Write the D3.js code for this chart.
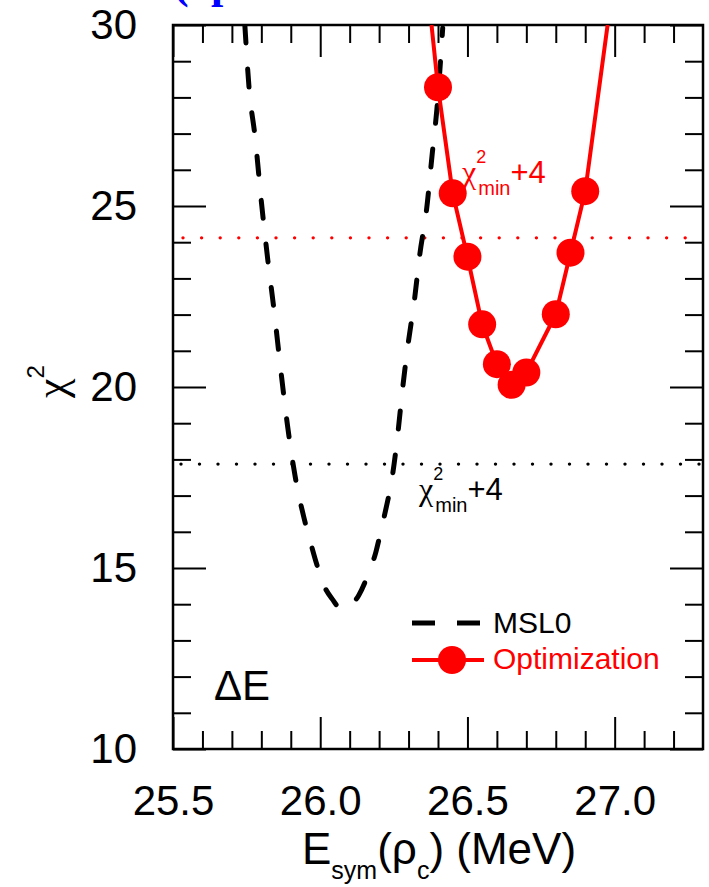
<!DOCTYPE html>
<html>
<head>
<meta charset="utf-8">
<script src="https://cdn.jsdelivr.net/npm/d3@7"></script>
<style>
  html, body { margin: 0; padding: 0; background: #ffffff; }
  svg { display: block; font-family: "Liberation Sans", Arial, Helvetica, sans-serif; }
</style>
</head>
<body>
<svg id="chart" width="709" height="887"></svg>
<script>
// ---------------- data ----------------
const xMajorTicks = [25.5, 26.0, 26.5, 27.0];
const xTickLabels = ["25.5", "26.0", "26.5", "27.0"];
const xMinorTicks = [25.6, 25.7, 25.8, 25.9, 26.1, 26.2, 26.3, 26.4, 26.6, 26.7, 26.8, 26.9, 27.1, 27.2];
const yMajorTicks = [10, 15, 20, 25, 30];
const yTickLabels = ["10", "15", "20", "25", "30"];
const yMinorTicks = [11, 12, 13, 14, 16, 17, 18, 19, 21, 22, 23, 24, 26, 27, 28, 29];

// MSL0 (dashed black curve)
const msl0X = [25.744, 25.759, 25.778, 25.802, 25.822, 25.843, 25.866, 25.890, 25.914, 25.945, 25.965, 25.989, 26.012, 26.043, 26.070, 26.101, 26.131, 26.162, 26.189, 26.209, 26.226, 26.243, 26.263, 26.280, 26.297, 26.320, 26.338, 26.361, 26.381, 26.396, 26.416];
const msl0Y = [30.0, 28.2, 26.96, 24.97, 23.51, 22.13, 20.47, 18.87, 17.57, 16.38, 15.77, 15.08, 14.53, 14.12, 13.87, 13.95, 14.25, 14.81, 15.44, 16.13, 16.74, 17.43, 18.67, 19.97, 21.10, 22.40, 23.65, 24.89, 26.49, 27.65, 29.92];

// Optimization (red points)
const optX = [26.40, 26.45, 26.50, 26.55, 26.60, 26.65, 26.70, 26.80, 26.85, 26.90];
const optY = [28.28, 25.35, 23.60, 21.73, 20.63, 20.06, 20.40, 22.01, 23.71, 25.41];
// red curve continues to the top of the frame
const optLineStartX = 26.378, optLineStartY = 30.0;
const optLineEndX = 26.976, optLineEndY = 30.0;

// chi2_min + 4 thresholds
const msl0Threshold = 17.87;
const optThreshold = 24.12;

// ---------------- layout ----------------
const svg = d3.select("#chart");
const L = 173, R = 703, T = 25, B = 749;
const x = d3.scaleLinear().domain([25.5, 27.3]).range([L, R]);
const y = d3.scaleLinear().domain([10, 30]).range([B, T]);
const tickFont = 42;
const greekFont = "'Liberation Serif', 'DejaVu Serif', serif";

svg.append("defs").append("clipPath").attr("id", "plotclip")
  .append("rect").attr("x", L).attr("y", T).attr("width", R - L).attr("height", B - T);

// partially visible blue title at the very top (cut off in the original figure too)
const title = svg.append("text")
  .attr("y", -2)
  .attr("font-family", "'Liberation Serif', 'Times New Roman', serif")
  .attr("font-weight", "bold")
  .attr("font-size", 44)
  .attr("fill", "#0000ff");
title.append("tspan").attr("x", 174).text("(");
title.append("tspan").attr("x", 211).text("p");

// ---------------- axes ----------------
function styleAxis(g) {
  g.select(".domain").remove();
  g.selectAll(".tick line").attr("stroke", "#000").attr("stroke-width", 2);
  g.selectAll(".tick text").attr("fill", "#000").attr("font-size", tickFont)
    .attr("font-family", "'Liberation Sans', Arial, Helvetica, sans-serif");
}

// bottom
svg.append("g").attr("transform", `translate(0,${B})`)
  .call(d3.axisBottom(x).tickValues(xMajorTicks).tickSize(-32).tickPadding(36)
    .tickFormat((d, i) => xTickLabels[i]))
  .call(styleAxis);
svg.append("g").attr("transform", `translate(0,${B})`)
  .call(d3.axisBottom(x).tickValues(xMinorTicks).tickSize(-18).tickFormat(""))
  .call(styleAxis);
// top
svg.append("g").attr("transform", `translate(0,${T})`)
  .call(d3.axisTop(x).tickValues(xMajorTicks).tickSize(-32).tickFormat(""))
  .call(styleAxis);
svg.append("g").attr("transform", `translate(0,${T})`)
  .call(d3.axisTop(x).tickValues(xMinorTicks).tickSize(-18).tickFormat(""))
  .call(styleAxis);
// left
svg.append("g").attr("transform", `translate(${L},0)`)
  .call(d3.axisLeft(y).tickValues(yMajorTicks).tickSize(-33).tickPadding(36)
    .tickFormat((d, i) => yTickLabels[i]))
  .call(styleAxis);
svg.append("g").attr("transform", `translate(${L},0)`)
  .call(d3.axisLeft(y).tickValues(yMinorTicks).tickSize(-18).tickFormat(""))
  .call(styleAxis);
// right
svg.append("g").attr("transform", `translate(${R},0)`)
  .call(d3.axisRight(y).tickValues(yMajorTicks).tickSize(-33).tickFormat(""))
  .call(styleAxis);
svg.append("g").attr("transform", `translate(${R},0)`)
  .call(d3.axisRight(y).tickValues(yMinorTicks).tickSize(-18).tickFormat(""))
  .call(styleAxis);

// frame
svg.append("rect").attr("x", L).attr("y", T).attr("width", R - L).attr("height", B - T)
  .attr("fill", "none").attr("stroke", "#000").attr("stroke-width", 2.5);

// ---------------- plot ----------------
const plot = svg.append("g").attr("clip-path", "url(#plotclip)");

// dotted threshold lines
plot.append("line")
  .attr("x1", x(25.5)).attr("x2", x(27.3))
  .attr("y1", y(msl0Threshold)).attr("y2", y(msl0Threshold))
  .attr("stroke", "#000").attr("stroke-width", 3.4)
  .attr("stroke-linecap", "round").attr("stroke-dasharray", "0,18.5")
  .attr("stroke-dashoffset", -8);
plot.append("line")
  .attr("x1", x(25.5)).attr("x2", x(27.3))
  .attr("y1", y(optThreshold)).attr("y2", y(optThreshold))
  .attr("stroke", "#ff0000").attr("stroke-width", 3.4)
  .attr("stroke-linecap", "round").attr("stroke-dasharray", "0,18.6")
  .attr("stroke-dashoffset", -10);

// MSL0 dashed curve
const msl0Data = msl0X.map((v, i) => [v, msl0Y[i]]);
plot.append("path")
  .datum(msl0Data)
  .attr("d", d3.line().x(d => x(d[0])).y(d => y(d[1])).curve(d3.curveMonotoneX))
  .attr("fill", "none").attr("stroke", "#000").attr("stroke-width", 5)
  .attr("stroke-linecap", "round").attr("stroke-dasharray", "18,26");

// optimization curve and points
const optData = optX.map((v, i) => [v, optY[i]]);
const optLine = [[optLineStartX, optLineStartY], ...optData, [optLineEndX, optLineEndY]];
plot.append("path")
  .datum(optLine)
  .attr("d", d3.line().x(d => x(d[0])).y(d => y(d[1])))
  .attr("fill", "none").attr("stroke", "#ff0000").attr("stroke-width", 4);
plot.selectAll("circle.opt")
  .data(optData)
  .enter().append("circle").attr("class", "opt")
  .attr("cx", d => x(d[0])).attr("cy", d => y(d[1])).attr("r", 14)
  .attr("fill", "#ff0000");

// ---------------- annotations ----------------
function chiLabel(xPos, yPos, color) {
  const t = svg.append("text").attr("x", xPos).attr("y", yPos)
    .attr("fill", color).attr("font-size", 30);
  t.append("tspan").attr("font-family", greekFont).attr("font-size", 32).text("χ");
  t.append("tspan").attr("font-size", 18).attr("dy", -20).text("2");
  t.append("tspan").attr("font-size", 20).attr("dx", -8).attr("dy", 32).text("min");
  t.append("tspan").attr("font-size", 31).attr("dy", -12).text("+4");
}
chiLabel(462, 183, "#ff0000");
chiLabel(419, 500, "#000");

// ΔE label
svg.append("text").attr("x", 214).attr("y", 700).attr("font-size", 42).attr("fill", "#000").text("ΔE");

// legend
svg.append("line").attr("x1", 412).attr("x2", 480).attr("y1", 623).attr("y2", 623)
  .attr("stroke", "#000").attr("stroke-width", 5).attr("stroke-dasharray", "23,22");
svg.append("text").attr("x", 493).attr("y", 633).attr("font-size", 30).attr("fill", "#000").text("MSL0");
svg.append("line").attr("x1", 412).attr("x2", 484).attr("y1", 660).attr("y2", 660)
  .attr("stroke", "#ff0000").attr("stroke-width", 4);
svg.append("circle").attr("cx", 452).attr("cy", 660).attr("r", 14).attr("fill", "#ff0000");
svg.append("text").attr("x", 493).attr("y", 669).attr("font-size", 30).attr("fill", "#ff0000").text("Optimization");

// axis titles
const yTitle = svg.append("text").attr("transform", "translate(66,398) rotate(-90)")
  .attr("font-size", 42).attr("fill", "#000");
yTitle.append("tspan").attr("font-family", greekFont).attr("font-size", 44).text("χ");
yTitle.append("tspan").attr("font-size", 24).attr("dy", -22).text("2");

const xTitle = svg.append("text").attr("x", 302).attr("y", 864).attr("font-size", 44).attr("fill", "#000");
xTitle.append("tspan").text("E");
xTitle.append("tspan").attr("font-size", 25).attr("dy", 15).text("sym");
xTitle.append("tspan").attr("dy", -15).text("(ρ");
xTitle.append("tspan").attr("font-size", 25).attr("dy", 15).text("c");
xTitle.append("tspan").attr("dy", -15).text(") (MeV)");
</script>
</body>
</html>
